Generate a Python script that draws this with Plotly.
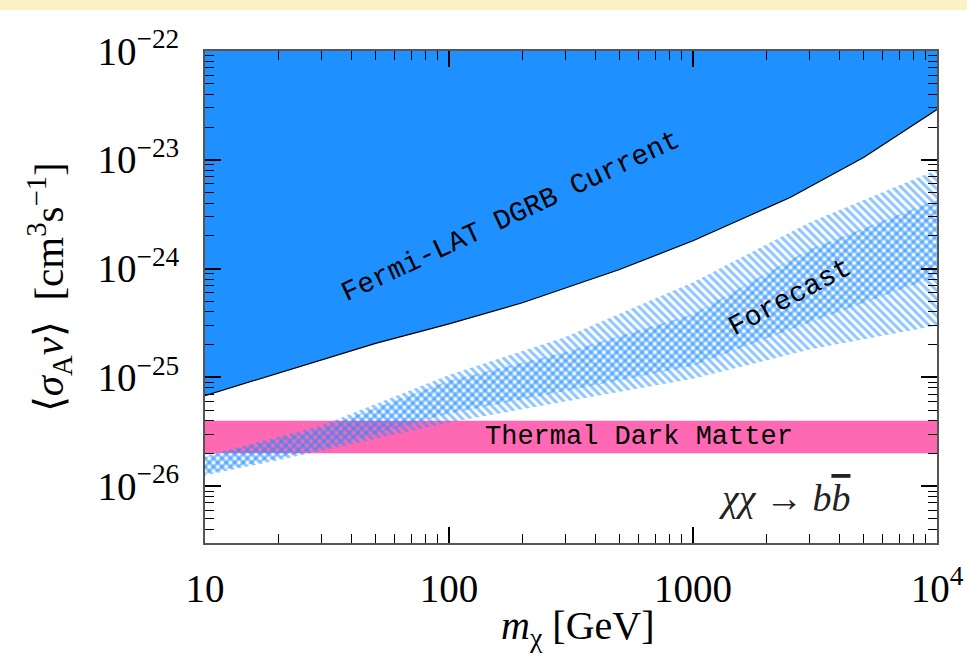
import math
import plotly.graph_objects as go

# Fermi-LAT DGRB current upper limit on <sigma v> (cm^3 s^-1) vs WIMP mass (GeV)
mass_fermi = [10, 30, 50, 100, 200, 500, 1000, 2500, 5000, 10000]
sigv_fermi = [6.8e-26, 1.45e-25, 2.05e-25, 3.1e-25, 4.85e-25, 9.8e-25,
              1.8e-24, 4.5e-24, 1.05e-23, 2.9e-23]

# Forecast sensitivity bands
mass_fc = [10, 30, 100, 300, 1000, 3000, 10000]
outer_hi = [1.9e-26, 3.6e-26, 1.05e-25, 2.35e-25, 7.5e-25, 2.65e-24, 8.1e-24]
outer_lo = [1.25e-26, 2.1e-26, 3.85e-26, 6.0e-26, 9.7e-26, 1.8e-25, 3.0e-25]
inner_hi = [1.85e-26, 3.4e-26, 9.3e-26, 1.7e-25, 3.8e-25, 1.5e-24, 4.3e-24]
inner_lo = [1.3e-26, 2.2e-26, 4.65e-26, 7.5e-26, 1.28e-25, 3.2e-25, 8.5e-25]

# Thermal relic cross-section band
thermal_lo, thermal_hi = 2.0e-26, 4.0e-26

x_range = [10, 1e4]
y_range = [3e-27, 1e-22]

x_ticks = [10, 100, 1000, 10000]
x_ticktext = ["10", "100", "1000", "10<sup>4</sup>"]
y_ticks = [1e-26, 1e-25, 1e-24, 1e-23, 1e-22]
y_ticktext = ["10<sup>\u221226</sup>", "10<sup>\u221225</sup>", "10<sup>\u221224</sup>",
              "10<sup>\u221223</sup>", "10<sup>\u221222</sup>"]

BLUE = "#1E90FF"
PINK = "#FF69B4"
HATCH = "#1E8CFF"
MONO = "Liberation Mono, Courier New, monospace"
SERIF = "Liberation Serif, Times New Roman, serif"

fig = go.Figure()

# thermal band
fig.add_trace(go.Scatter(
    x=[x_range[0], x_range[1], x_range[1], x_range[0]],
    y=[thermal_lo, thermal_lo, thermal_hi, thermal_hi],
    fill="toself", fillcolor=PINK, mode="lines", line=dict(width=0),
    hoverinfo="skip", showlegend=False))

# forecast: outer band hatched one way, inner band the other way
fig.add_trace(go.Scatter(
    x=mass_fc + mass_fc[::-1], y=outer_hi + outer_lo[::-1],
    fill="toself", mode="lines", line=dict(width=0),
    fillcolor="rgba(0,0,0,0)",
    fillpattern=dict(shape="\\", fgcolor=HATCH, size=6, solidity=0.5),
    hoverinfo="skip", showlegend=False))
fig.add_trace(go.Scatter(
    x=mass_fc + mass_fc[::-1], y=inner_hi + inner_lo[::-1],
    fill="toself", mode="lines", line=dict(width=0),
    fillcolor="rgba(0,0,0,0)",
    fillpattern=dict(shape="/", fgcolor=HATCH, size=6, solidity=0.5),
    hoverinfo="skip", showlegend=False))

# excluded region above the Fermi-LAT limit
fig.add_trace(go.Scatter(
    x=mass_fermi + [x_range[1], x_range[0]],
    y=sigv_fermi + [y_range[1], y_range[1]],
    fill="toself", fillcolor=BLUE, mode="lines", line=dict(width=0),
    hoverinfo="skip", showlegend=False))
fig.add_trace(go.Scatter(
    x=mass_fermi, y=sigv_fermi, mode="lines",
    line=dict(color="black", width=1.2),
    hoverinfo="skip", showlegend=False))

annotations = [
    dict(x=math.log10(180), y=math.log10(3.0e-24), text="Fermi-LAT DGRB Current",
         textangle=-25, font=dict(family=MONO, size=28, color="black")),
    dict(x=math.log10(2500), y=math.log10(5.4e-25), text="Forecast",
         textangle=-28, font=dict(family=MONO, size=28, color="black")),
    dict(x=math.log10(600), y=math.log10(math.sqrt(thermal_lo * thermal_hi)),
         text="Thermal Dark Matter",
         font=dict(family=MONO, size=27, color="black")),
    dict(x=math.log10(2350), y=math.log10(7.7e-27),
         text="<i>\u03c7\u03c7</i> \u2192 <i>b</i><span style='text-decoration:overline'><i>b</i></span>",
         font=dict(family=SERIF, size=38, color="#222")),
    dict(xref="paper", yref="paper", x=0.51, y=-0.172,
         text="<i>m</i><sub>\u03c7</sub> [GeV]",
         font=dict(family=SERIF, size=40, color="black")),
    dict(xref="paper", yref="paper", x=-0.213, y=0.52, textangle=-90,
         text="\u27e8<i>\u03c3</i><sub>A</sub><i>v</i>\u27e9  [cm<sup>3</sup>s<sup>\u22121</sup>]",
         font=dict(family=SERIF, size=41, color="black")),
]
for a in annotations:
    a.setdefault("xref", "x")
    a.setdefault("yref", "y")
    a["showarrow"] = False
    a["xanchor"] = "center"
    a["yanchor"] = "middle"

def minor_vals(lo_exp, hi_exp):
    return [m * 10 ** e for e in range(lo_exp, hi_exp) for m in range(2, 10)]

axis_common = dict(
    type="log", showgrid=False, zeroline=False, automargin=False,
    showline=True, linecolor="#555", linewidth=2, mirror="allticks",
    ticks="inside", ticklen=16, tickwidth=1.5, tickcolor="black",
    tickfont=dict(family=SERIF, size=39, color="black"),
)

fig.update_layout(
    width=967, height=654,
    margin=dict(l=205, r=30, t=51, b=111, autoexpand=False),
    paper_bgcolor="white", plot_bgcolor="white",
    annotations=annotations,
    shapes=[dict(type="rect", xref="paper", yref="paper",
                 x0=-0.3, x1=1.1, y0=1 + 41 / 492, y1=1 + 51 / 492,
                 fillcolor="#FBF1C6", line=dict(width=0), layer="below")],
    xaxis=dict(axis_common, range=[math.log10(x_range[0]), math.log10(x_range[1])],
               tickvals=x_ticks, ticktext=x_ticktext, ticklabelstandoff=10,
               minor=dict(ticks="inside", ticklen=9, tickwidth=1.2, tickcolor="black",
                          tickvals=minor_vals(1, 4))),
    yaxis=dict(axis_common, range=[math.log10(y_range[0]), math.log10(y_range[1])],
               tickvals=y_ticks, ticktext=y_ticktext, ticklabelstandoff=16,
               minor=dict(ticks="inside", ticklen=9, tickwidth=1.2, tickcolor="black",
                          tickvals=minor_vals(-27, -22))),
)

fig.write_html("out.html")
